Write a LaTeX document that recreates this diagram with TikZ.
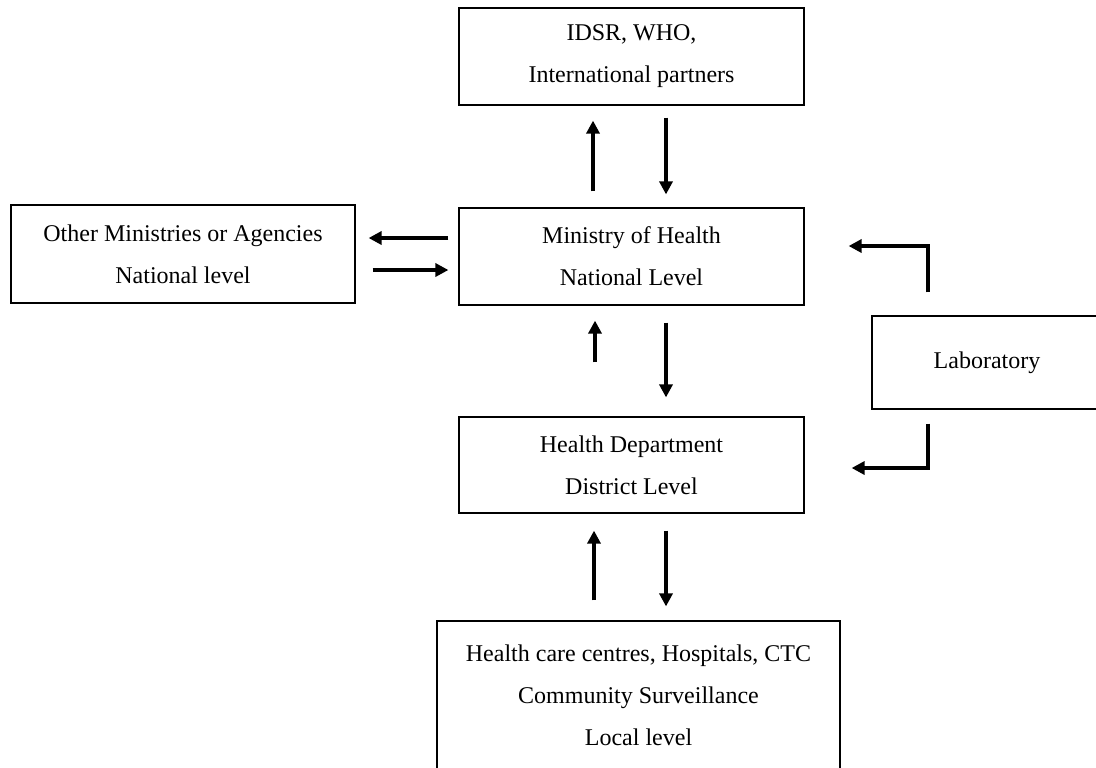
\documentclass[tikz,border=0pt]{standalone}
\usepackage{fontspec}
\setmainfont{Liberation Serif}
\usetikzlibrary{arrows.meta}
\begin{document}
\begin{tikzpicture}[x=0.5pt, y=-0.5pt, every node/.style={rectangle, draw, line width=0.6pt, align=center, font=\fontsize{12}{21}\selectfont, inner sep=0pt}, flow/.style={line width=2pt, -{Triangle[length=6.5pt,width=6.5pt]}}]
        \clip (0,0) rectangle (1096,767);
        \node (who) [minimum width=172.5pt, minimum height=48.5pt] at (631.5,56.5) {IDSR, WHO,\\International partners};
        \node (moh) [minimum width=172.5pt, minimum height=48.5pt] at (631.5,256.5) {Ministry of Health\\National Level};
        \node (other) [minimum width=172pt, minimum height=49pt] at (183,254) {Other Ministries or Agencies\\National level};
        \node (hd) [minimum width=172.5pt, minimum height=48pt] at (631.5,465) {Health Department\\District Level};
        \node (local) [minimum width=201.5pt, minimum height=74pt] at (638.5,695) {Health care centres, Hospitals, CTC\\Community Surveillance\\Local level};
        \node (lab) [minimum width=115pt, minimum height=46.5pt] at (987,362.5) {Laboratory};
        \draw[flow, shorten <=8pt, shorten >=7.5pt] ([xshift=-19.25pt]moh.north) -- ([xshift=-19.25pt]who.south);
        \draw[flow, shorten <=6pt, shorten >=6.5pt] ([xshift=17.25pt]who.south) -- ([xshift=17.25pt]moh.north);
        \draw[flow, shorten <=5pt, shorten >=6.5pt] ([yshift=9.25pt]moh.west) -- ([yshift=8pt]other.east);
        \draw[flow, shorten <=8.5pt, shorten >=5pt] ([yshift=-8pt]other.east) -- ([yshift=-6.75pt]moh.west);
        \draw[flow, shorten <=27pt, shorten >=7.5pt] ([xshift=-18.25pt]hd.north) -- ([xshift=-18.25pt]moh.south);
        \draw[flow, shorten <=8.5pt, shorten >=9.5pt] ([xshift=17.25pt]moh.south) -- ([xshift=17.25pt]hd.north);
        \draw[flow, shorten <=10pt, shorten >=8.5pt] ([xshift=-22.25pt]local.north) -- ([xshift=-18.75pt]hd.south);
        \draw[flow, shorten <=8.5pt, shorten >=7pt] ([xshift=17.25pt]hd.south) -- ([xshift=13.75pt]local.north);
        \draw[flow, shorten <=11.5pt] ([xshift=-29.5pt]lab.north) |- ([xshift=22pt,yshift=5.25pt]moh.east);
        \draw[flow, shorten <=7pt] ([xshift=-29.5pt]lab.south) |- ([xshift=23.5pt,yshift=-1.5pt]hd.east);
    \end{tikzpicture}
\end{document}
